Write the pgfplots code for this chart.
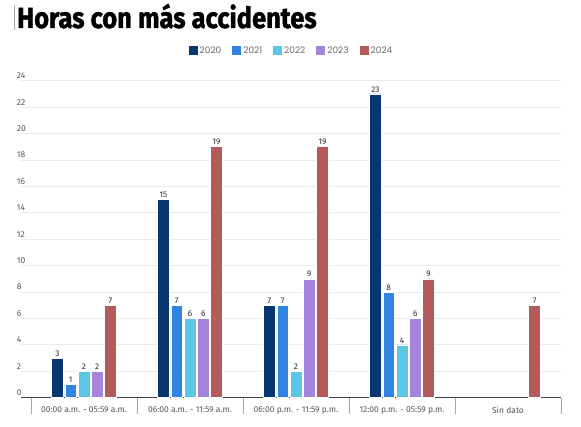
\documentclass[border=0pt]{standalone}
\usepackage{pgfplots}
\pgfplotsset{compat=1.18}
\usepackage{fontspec}
\setmainfont{Fira Sans}
\newfontfamily\legfont{Poppins}
\newfontfamily\titlefont[BoldFeatures={FakeBold=1.6}]{Fira Sans}
\definecolor{cA}{HTML}{08366F}
\definecolor{cB}{HTML}{3284E3}
\definecolor{cC}{HTML}{5CC6E6}
\definecolor{cD}{HTML}{A784DC}
\definecolor{cE}{HTML}{B35A5A}
\definecolor{tickgray}{HTML}{555555}
\definecolor{gridgray}{HTML}{EBEBEB}
\begin{document}
\begin{tikzpicture}[x=1pt,y=1pt]
\path (0,0) rectangle (581,427);
\draw[gray!70, line width=0.8pt] (14,422) -- (14,397);
\node[anchor=base west, inner sep=0pt] at (17,399) {\titlefont\fontsize{29}{29}\selectfont\bfseries\scalebox{0.88}[1]{Horas con más accidentes}};
\begin{axis}[
  at={(21pt,29.3pt)}, anchor=south west,
  scale only axis, width=540pt, height=317pt,
  /pgf/number format/assume math mode=true,
  xmin=-0.594, xmax=4.5, ymin=0, ymax=24,
  axis x line*=bottom, axis y line*=left,
  x axis line style={draw=black!75, line width=0.9pt},
  y axis line style={draw=none},
  ytick={0,2,...,24},
  ymajorgrids, major grid style={gridgray, line width=0.8pt},
  ytick style={draw=none},
  yticklabel style={anchor=south west, inner sep=0pt, yshift=1.8pt, font=\fontsize{8.5}{8.5}\selectfont, text=tickgray},
  xtick={0,1,2,3,4},
  xticklabels={00:00 a.m. - 05:59 a.m., 06:00 a.m. - 11:59 a.m., 06:00 p.m. - 11:59 p.m., 12:00 p.m. - 05:59 p.m., Sin dato},
  xticklabel style={anchor=north, inner sep=0pt, yshift=-4.5pt, font=\fontsize{8.5}{8.5}\selectfont, text=tickgray},
  major x tick style={draw=none},
  minor xtick={-0.5,0.5,1.5,2.5,3.5,4.5},
  minor tick length=16pt,
  tick align=outside,
  minor x tick style={draw=black!35, line width=0.8pt},
  ybar=1.5pt, bar width=11.8pt,
  every axis plot/.append style={draw=white, line width=0.5pt},
  nodes near coords,
  every node near coord/.append style={font=\fontsize{8.2}{8.2}\selectfont, text=black!85, inner sep=1.5pt},
  legend columns=5,
  legend style={at={(0.501,1.095)}, anchor=center, draw=none, fill=none, font=\legfont\fontsize{9}{9}\selectfont, text=black!60,
    /tikz/every even column/.append style={column sep=9pt}},
  legend image code/.code={\fill[#1, draw=none] (0pt,-4.5pt) rectangle (9pt,4.5pt);},
]
\addplot[fill=cA] coordinates {(0,3) (1,15) (2,7) (3,23)};
\addplot[fill=cB] coordinates {(0,1) (1,7) (2,7) (3,8)};
\addplot[fill=cC] coordinates {(0,2) (1,6) (2,2) (3,4)};
\addplot[fill=cD] coordinates {(0,2) (1,6) (2,9) (3,6)};
\addplot[fill=cE] coordinates {(0,7) (1,19) (2,19) (3,9) (4,7)};
\legend{2020,2021,2022,2023,2024}
\end{axis}
\end{tikzpicture}
\end{document}
